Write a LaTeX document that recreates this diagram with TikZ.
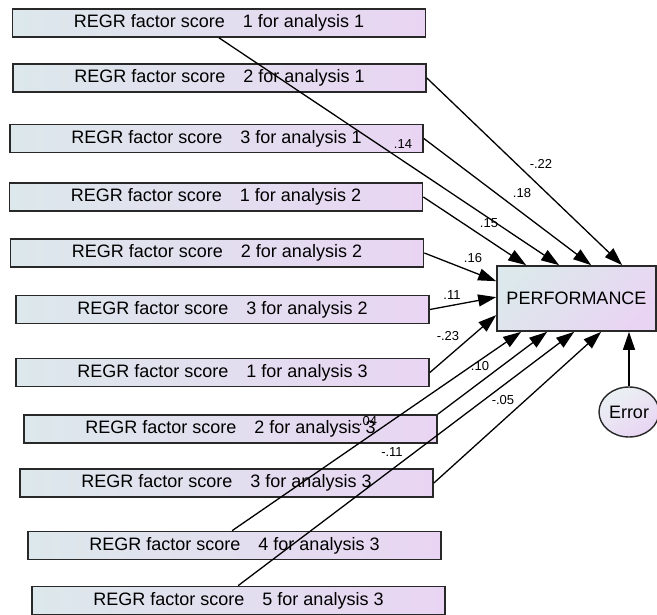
\documentclass[tikz,border=0pt]{standalone}
\usepackage{fontspec}
\setmainfont{Liberation Sans}
\usepackage{xcolor}
\usepackage{tikz}
\usetikzlibrary{arrows.meta, positioning, calc, shapes.geometric}
\definecolor{SemBlue}{RGB}{220, 232, 235}
\definecolor{SemLilac}{RGB}{233, 213, 243}
\definecolor{SemLine}{RGB}{40, 40, 40}

\tikzset{
  scorebox/.style={draw=SemLine, line width=1.7pt, left color=SemBlue, right color=SemLilac,
                   minimum width=413pt, minimum height=28pt, inner sep=0pt,
                   font=\fontsize{18}{20}\selectfont},
  outcome/.style={draw=SemLine, line width=1.7pt, top color=SemBlue, bottom color=SemLilac,
                  shading angle=45, minimum width=159pt, minimum height=65pt, inner sep=0pt,
                  font=\fontsize{18}{20}\selectfont},
  residual/.style={ellipse, draw=SemLine, line width=1.4pt, top color=SemBlue!60!white,
                   bottom color=SemLilac, shading angle=30, minimum width=60pt, minimum height=50pt,
                   inner sep=0pt, font=\fontsize{18}{20}\selectfont},
  effect/.style={-{Triangle[length=18pt,width=12pt]}, line width=1.3pt, draw=black},
  coef/.style={font=\fontsize{13}{15}\selectfont, inner sep=0pt}
}

\begin{document}
\begin{tikzpicture}[x=1pt, y=-1pt]
  \useasboundingbox (0,0) rectangle (657,615);

  % observed predictors
  \foreach \name/\cx/\cy/\k/\a in {b1/219/23/1/1, b2/219.5/78/2/1, b3/216.5/138.5/3/1,
      b4/216/197/1/2, b5/217/253/2/2, b6/222.5/309.5/3/2, b7/222.5/372.5/1/3,
      b8/230.5/429/2/3, b9/226.5/483/3/3, b10/234.5/545.5/4/3, b11/238.5/600.5/5/3}
    \node[scorebox] (\name) at (\cx,\cy) {REGR factor score\quad\k{} for analysis \a};

  \node[outcome] (perf) at (576.5,298.5) {PERFORMANCE};
  \node[residual] (err) at (629,412) {Error};

  % paths into PERFORMANCE
  \draw[effect] (b1.south) -- ($(perf.north west)+(63,0)$);
  \draw[effect] (b2.east) -- ($(perf.north west)+(126,0)$);
  \draw[effect] (b3.east) -- ($(perf.north west)+(95,0)$);
  \draw[effect] (b4.east) -- ($(perf.north west)+(30,0)$);
  \draw[effect] (b5.east) -- ($(perf.north west)+(0,16)$);
  \draw[effect] (b6.east) -- ($(perf.north west)+(0,32)$);
  \draw[effect] (b7.east) -- ($(perf.north west)+(0,50)$);
  \draw[effect] (b8.north east) -- ($(perf.south west)+(51,0)$);
  \draw[effect] (b9.east) -- ($(perf.south west)+(105,0)$);
  \draw[effect] ($(b10.north west)+(205,0)$) -- ($(perf.south west)+(25,0)$);
  \draw[effect] ($(b11.north west)+(207,0)$) -- ($(perf.south west)+(78,0)$);
  \draw[effect] (err.north) -- (perf.south -| err.north);

  % standardized weights
  \foreach \name/\lx/\ly/\val in {w1/403/144/.14, w2/541/164/-.22, w3/522/193/.18,
      w4/489/223/.15, w5/473/258/.16, w6/452/295/.11, w7/448/336/-.23, w8/480/366/.10,
      w9/503/400/-.05, w10/368/421/.04, w11/392/452/-.11}
    \node[coef] (\name) at (\lx,\ly) {\val};
\end{tikzpicture}
\end{document}
